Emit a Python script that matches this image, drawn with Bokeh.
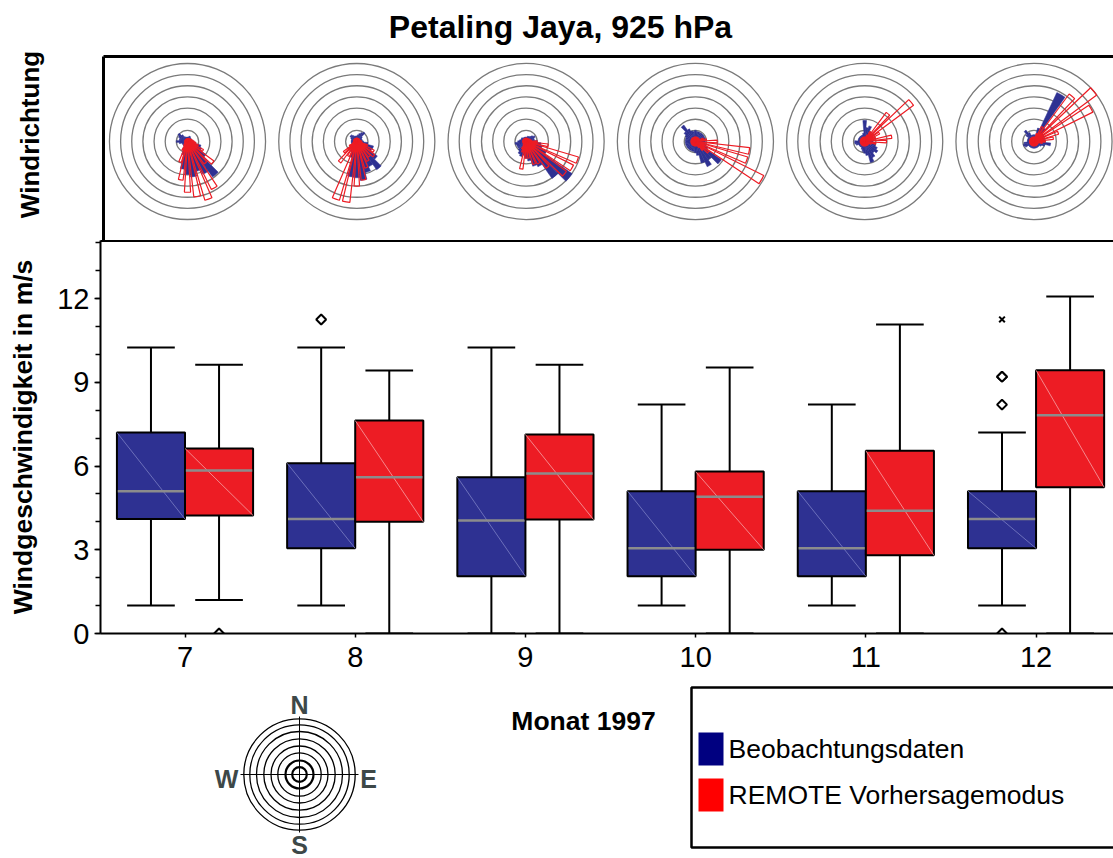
import math
from bokeh.plotting import figure
from bokeh.models import Range1d, LinearAxis, FixedTicker
from bokeh.layouts import column
from bokeh.core.properties import value
from bokeh.embed import file_html
from bokeh.resources import INLINE

FONT = value("Liberation Sans")
BLUE = "#2E3192"
RED = "#ED1C24"

# ---------------- data ----------------
months = [7, 8, 9, 10, 11, 12]

# Beobachtungsdaten (observations), wind speed m/s
obs_whisker_low = [1.0, 1.0, 0.0, 1.0, 1.0, 1.0]
obs_q1 = [4.1, 3.05, 2.05, 2.05, 2.05, 3.05]
obs_median = [5.1, 4.1, 4.05, 3.05, 3.05, 4.1]
obs_q3 = [7.2, 6.1, 5.6, 5.1, 5.1, 5.1]
obs_whisker_high = [10.25, 10.25, 10.25, 8.2, 8.2, 7.2]
obs_outlier_month = [8, 12, 12, 12, 12]
obs_outlier_value = [11.25, 9.2, 9.2, 8.2, 0.0]
obs_extreme_month = [12]
obs_extreme_value = [11.25]

# REMOTE Vorhersagemodus (model)
mod_whisker_low = [1.2, 0.0, 0.0, 0.0, 0.0, 0.0]
mod_q1 = [4.23, 4.0, 4.08, 3.0, 2.8, 5.24]
mod_median = [5.84, 5.6, 5.73, 4.9, 4.4, 7.82]
mod_q3 = [6.63, 7.63, 7.13, 5.8, 6.55, 9.43]
mod_whisker_high = [9.63, 9.42, 9.63, 9.53, 11.07, 12.07]
mod_outlier_month = [7]
mod_outlier_value = [0.0]

# wind rose: direction bins (deg, clockwise from N) and frequency (%)
rose_dirs = list(range(0, 360, 10))
obs_rose_jul = [0.8,0.8,1.0,1.0,0.8,0.8,0.8,0.8,1.0,1.0,1.5,2.5,2.8,4.0,7.8,6.5,5.6,6.4,5.9,5.0,2.5,1.5,1.0,1.0,1.0,1.0,1.5,2.0,1.5,1.5,1.8,2.1,1.5,1.0,0.8,0.8]
mod_rose_jul = [0.5,0.5,0.6,0.6,0.6,0.6,0.8,0.8,1.0,1.2,1.5,2.0,3.2,5.9,5.0,9.6,11.0,10.0,9.1,7.0,3.9,1.8,1.0,0.8,0.6,0.5,0.5,0.5,0.5,0.5,0.5,0.5,0.5,0.5,0.5,0.5]
obs_rose_aug = [1.0,1.2,1.5,1.8,2.1,1.2,1.0,1.0,1.0,1.2,2.0,3.1,3.0,4.5,6.2,5.0,5.8,7.0,6.5,6.4,3.0,2.0,1.5,1.2,1.0,1.0,1.0,1.0,1.0,1.0,1.2,1.5,1.5,1.2,1.0,1.0]
mod_rose_aug = [0.6,0.6,0.6,0.6,0.6,0.6,0.6,0.6,0.8,0.8,1.0,2.0,3.5,4.0,3.5,4.0,5.0,7.0,8.0,11.0,11.0,3.0,4.8,3.0,1.5,0.8,0.6,0.6,0.6,0.6,0.6,0.6,0.6,0.6,0.6,0.6]
obs_rose_sep = [0.8,0.8,1.0,1.0,1.2,1.5,1.8,1.5,1.5,2.0,2.7,3.0,4.0,10.1,8.1,5.0,4.6,3.5,3.0,2.5,2.8,2.5,2.0,1.8,1.8,1.8,2.0,1.5,1.2,1.0,1.0,1.0,0.8,0.8,0.8,0.8]
mod_rose_sep = [0.6,0.6,0.6,0.6,0.6,0.6,0.8,0.8,1.0,2.0,4.0,9.8,9.5,9.0,6.0,4.5,4.3,3.0,3.0,5.0,2.0,1.5,0.8,0.6,0.6,0.6,0.6,0.6,0.6,0.6,0.6,0.6,0.6,0.6,0.6,0.6]
obs_rose_oct = [2.0,1.8,1.8,1.8,1.8,1.8,1.8,1.8,1.8,1.8,1.8,2.0,2.5,5.7,4.0,5.0,4.0,2.5,2.0,1.8,1.8,1.8,1.8,1.8,1.8,1.8,1.8,1.8,1.8,1.8,2.0,2.5,3.6,2.5,2.0,1.8]
mod_rose_oct = [0.8,0.8,0.8,0.8,0.8,0.8,0.8,1.5,2.0,3.9,9.8,9.8,13.7,3.0,2.0,1.2,0.8,0.8,0.8,0.8,0.8,0.8,0.8,0.8,0.8,0.8,0.8,0.8,0.8,0.8,0.8,0.8,0.8,0.8,0.8,0.8]
obs_rose_nov = [3.8,2.5,2.9,1.5,1.2,1.2,1.2,1.2,1.2,1.5,1.8,2.0,2.5,2.9,2.5,3.2,3.9,2.5,2.1,1.8,1.5,1.2,1.2,1.2,1.2,1.6,1.8,1.8,1.2,1.2,1.2,1.2,1.2,1.2,1.2,1.5]
mod_rose_nov = [0.8,0.8,1.2,2.0,6.5,10.9,3.0,2.0,4.9,3.9,2.0,1.2,0.8,0.8,0.8,0.8,0.8,0.8,0.8,0.8,0.8,0.8,0.8,0.8,0.8,0.8,0.8,0.8,0.8,0.8,0.8,0.8,0.8,0.8,0.8,0.8]
obs_rose_dec = [1.2,1.2,2.5,9.7,3.0,2.0,2.0,1.8,1.8,2.0,3.0,2.0,1.5,1.2,1.2,1.2,1.2,1.2,1.2,1.2,1.2,1.2,1.2,1.2,1.8,2.0,1.8,1.2,1.2,1.2,1.2,1.8,2.5,1.8,1.2,1.2]
mod_rose_dec = [0.8,0.8,1.5,3.0,10.6,14.0,11.8,4.6,3.5,2.0,1.5,0.8,0.8,0.8,0.8,0.8,0.8,0.8,0.8,0.8,0.8,0.8,0.8,0.8,0.8,0.8,0.8,0.8,0.8,0.8,0.8,0.8,0.8,0.8,0.8,0.8]
obs_roses = [obs_rose_jul, obs_rose_aug, obs_rose_sep, obs_rose_oct, obs_rose_nov, obs_rose_dec]
mod_roses = [mod_rose_jul, mod_rose_aug, mod_rose_sep, mod_rose_oct, mod_rose_nov, mod_rose_dec]
rose_ring_percent = [2, 4, 6, 8, 10, 12, 14]

# ---------------- top panel: wind roses ----------------
W = 1113
PX_PER_PCT = 5.575          # ring every 2 % = 11.15 px
ROSE_STEP = 169.3
ROSE_X0 = 187

p1 = figure(width=W, height=240, x_range=Range1d(0, W), y_range=Range1d(-99, 141),
            x_axis_type=None, y_axis_type=None, output_backend="svg",
            toolbar_location=None, min_border=0, outline_line_color=None)
p1.frame_align = False
p1.extra_x_ranges = {"month": Range1d(7 - ROSE_X0 / ROSE_STEP, 7 + (W - ROSE_X0) / ROSE_STEP)}

rx, rr = [], []
for m in months:
    for pct in rose_ring_percent:
        rx.append(m)
        rr.append(pct * PX_PER_PCT)
p1.circle(x=rx, y=[0] * len(rx), radius=rr, radius_units="screen", fill_color=None,
          line_color="#7a7a7a", line_width=1.3, x_range_name="month")


def wedges(roses, width):
    xs, rads, st, en = [], [], [], []
    for m, vals in zip(months, roses):
        for d, v in zip(rose_dirs, vals):
            xs.append(m)
            rads.append(v * PX_PER_PCT)
            st.append(math.radians(90 - d - width / 2))
            en.append(math.radians(90 - d + width / 2))
    return xs, rads, st, en


xs, rads, st, en = wedges(obs_roses, 10)
p1.wedge(x=xs, y=[0] * len(xs), radius=rads, radius_units="screen", start_angle=st, end_angle=en,
         fill_color=BLUE, line_color=BLUE, line_width=0.5, x_range_name="month")
xs, rads, st, en = wedges(mod_roses, 7)
p1.wedge(x=xs, y=[0] * len(xs), radius=rads, radius_units="screen", start_angle=st, end_angle=en,
         fill_color=None, line_color=RED, line_width=1.2, x_range_name="month")

# panel frame (top + left)
p1.segment(x0=[103, 103], y0=[85, 85], x1=[W, 103], y1=[85, -99], line_color="black", line_width=3)
p1.text(x=[560], y=[115], text=["Petaling Jaya, 925 hPa"], text_font=FONT, text_font_style="bold",
        text_font_size="32px", text_align="center", text_baseline="middle", text_color="black")
p1.text(x=[29], y=[7], text=["Windrichtung"], angle=math.pi / 2, text_font=FONT, text_font_style="bold",
        text_font_size="26px", text_align="center", text_baseline="middle", text_color="black")

# ---------------- box plot ----------------
p2 = figure(width=W, height=445, x_range=Range1d(6.5035, 12.455), y_range=Range1d(0, 14.08),
            output_backend="svg", toolbar_location=None, min_border_left=100, min_border_right=0,
            min_border_top=0, min_border_bottom=52, outline_line_color=None)
p2.frame_align = False
p2.xgrid.visible = False
p2.ygrid.visible = False

OFF = 0.2
BW = 0.4
CAP = 0.14
obs_x = [m - OFF for m in months]
mod_x = [m + OFF for m in months]

for xs_, lo, q1, med, q3, hi, col, diag in [
        (obs_x, obs_whisker_low, obs_q1, obs_median, obs_q3, obs_whisker_high, BLUE, "#7c80c4"),
        (mod_x, mod_whisker_low, mod_q1, mod_median, mod_q3, mod_whisker_high, RED, "#f6a3a6")]:
    p2.segment(x0=xs_, y0=q3, x1=xs_, y1=hi, line_color="black", line_width=2)
    p2.segment(x0=xs_, y0=q1, x1=xs_, y1=lo, line_color="black", line_width=2)
    p2.segment(x0=[x - CAP for x in xs_], y0=hi, x1=[x + CAP for x in xs_], y1=hi,
               line_color="black", line_width=2)
    p2.segment(x0=[x - CAP for x in xs_], y0=lo, x1=[x + CAP for x in xs_], y1=lo,
               line_color="black", line_width=2)
    p2.vbar(x=xs_, width=BW, top=q3, bottom=q1, fill_color=col, line_color="black", line_width=2)
    p2.segment(x0=[x - BW / 2 for x in xs_], y0=q3, x1=[x + BW / 2 for x in xs_], y1=q1,
               line_color=diag, line_width=1, line_alpha=0.8)
    p2.segment(x0=[x - BW / 2 + 0.005 for x in xs_], y0=med, x1=[x + BW / 2 - 0.005 for x in xs_], y1=med,
               line_color="#8c8c8c", line_width=2.5)

p2.scatter(x=[m - OFF for m in obs_outlier_month], y=obs_outlier_value, marker="square", angle=math.pi / 4,
           size=7, fill_color="white", line_color="black", line_width=2)
p2.scatter(x=[m + OFF for m in mod_outlier_month], y=mod_outlier_value, marker="square", angle=math.pi / 4,
           size=7, fill_color="white", line_color="black", line_width=2)
p2.scatter(x=[m - OFF for m in obs_extreme_month], y=obs_extreme_value, marker="x",
           size=8, line_color="black", line_width=2)

p2.yaxis.ticker = FixedTicker(ticks=[0, 3, 6, 9, 12], minor_ticks=list(range(0, 15)))
p2.xaxis.ticker = FixedTicker(ticks=months)
for ax in (p2.xaxis[0], p2.yaxis[0]):
    ax.axis_line_width = 2
    ax.axis_line_color = "black"
    ax.major_tick_line_color = "black"
    ax.major_tick_line_width = 1.5
    ax.major_tick_in = 0
    ax.minor_tick_in = 0
    ax.major_label_text_font = "Liberation Sans"
    ax.major_label_text_font_size = "29px"
    ax.major_label_text_color = "black"
p2.yaxis.major_tick_out = 6
p2.yaxis.minor_tick_out = 5
p2.yaxis.minor_tick_line_color = "black"
p2.yaxis.minor_tick_line_width = 1.5
p2.yaxis.major_label_standoff = 5
p2.yaxis.axis_label = "Windgeschwindigkeit in m/s"
p2.yaxis.axis_label_text_font = "Liberation Sans"
p2.yaxis.axis_label_text_font_style = "bold"
p2.yaxis.axis_label_text_font_size = "26.5px"
p2.yaxis.axis_label_text_color = "black"
p2.yaxis.axis_label_standoff = 16
p2.xaxis.major_tick_out = 4
p2.xaxis.minor_tick_line_color = None
p2.xaxis.major_label_standoff = 9

top_axis = LinearAxis(ticker=FixedTicker(ticks=[]), axis_line_width=3, axis_line_color="black",
                      major_tick_out=0, major_tick_in=0, minor_tick_out=0, minor_tick_in=0,
                      major_label_standoff=0, major_label_text_font_size="0px")
p2.add_layout(top_axis, "above")

# ---------------- bottom: compass, axis title, legend ----------------
p3 = figure(width=W, height=173, x_range=Range1d(0, W), y_range=Range1d(173, 0),
            x_axis_type=None, y_axis_type=None, output_backend="svg",
            toolbar_location=None, min_border=0, outline_line_color=None)
p3.frame_align = False

compass_rings = [7.3, 14, 21.7, 28.5, 35.7, 43, 49.7, 55.7]
compass_widths = [2.2, 2.2, 1.3, 1.3, 1.3, 1.3, 1.3, 1.3]
p3.circle(x=[299] * len(compass_rings), y=[89] * len(compass_rings), radius=compass_rings,
          radius_units="screen", fill_color=None, line_color="black", line_width=compass_widths)
p3.segment(x0=[299, 240], y0=[31, 89], x1=[299, 358], y1=[147, 89], line_color="black", line_width=1)
p3.text(x=[299, 299, 226, 368], y=[19, 159, 93, 93], text=["N", "S", "W", "E"], text_font=FONT,
        text_font_style="bold", text_font_size="25px", text_align="center", text_baseline="middle",
        text_color="#3d4848")
p3.text(x=[583], y=[35], text=["Monat 1997"], text_font=FONT, text_font_style="bold",
        text_font_size="26.5px", text_align="center", text_baseline="middle", text_color="black")

p3.quad(left=[691], right=[W + 20], top=[2], bottom=[162], fill_color=None, line_color="black", line_width=2.5)
p3.quad(left=[698, 698], right=[723, 723], top=[47, 93], bottom=[80, 126],
        fill_color=["#000080", "#FF0000"], line_color=None)
p3.text(x=[728, 728], y=[63, 109], text=["Beobachtungsdaten", "REMOTE Vorhersagemodus"],
        text_font=FONT, text_font_size="26.5px", text_align="left", text_baseline="middle",
        text_color="black")

layout = column(p1, p2, p3, spacing=0)
open("out.html", "w").write(file_html(layout, INLINE))
